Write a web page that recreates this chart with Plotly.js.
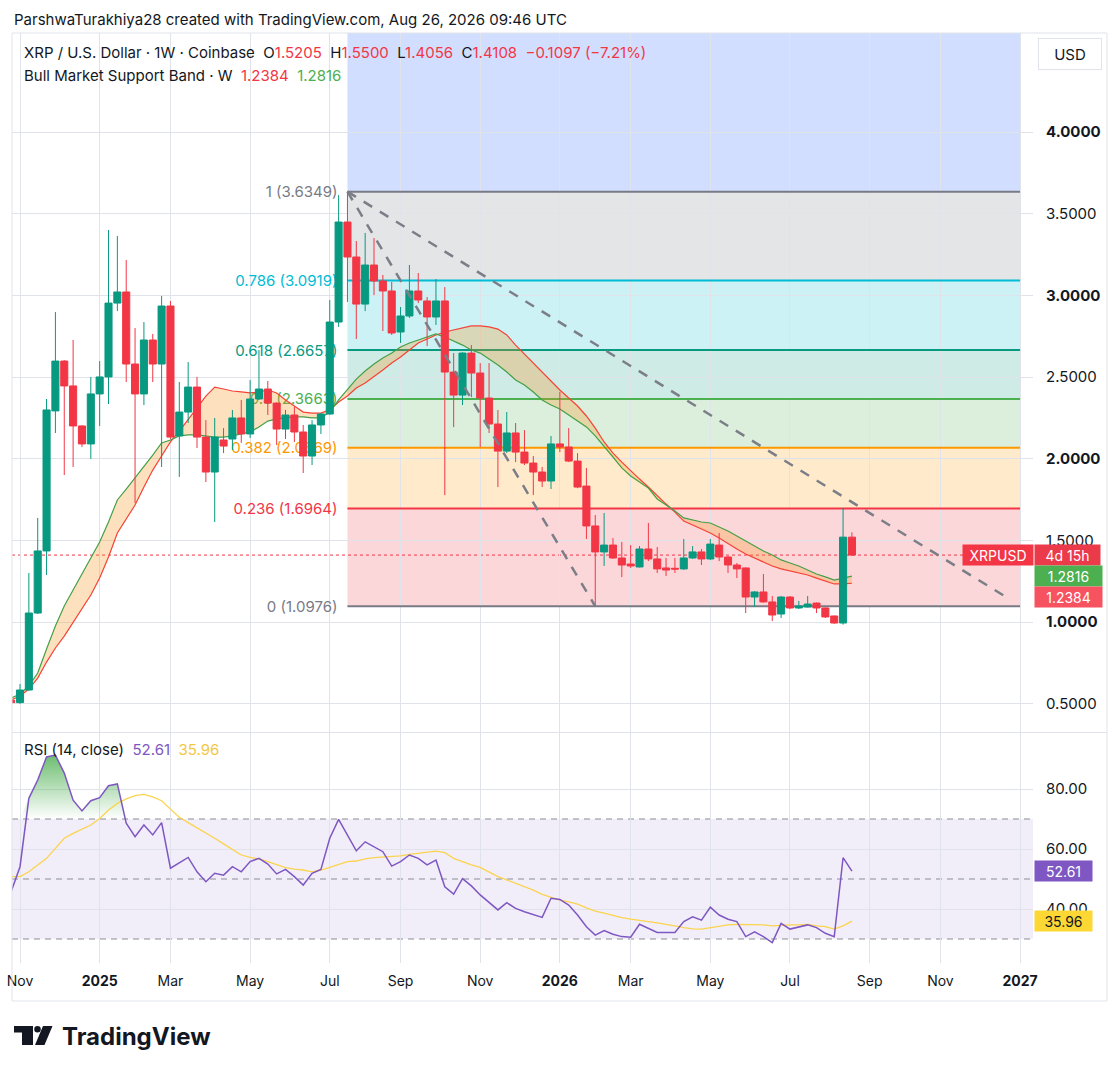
<!DOCTYPE html>
<html><head><meta charset="utf-8">
<script src="https://cdn.plot.ly/plotly-3.0.1.min.js"></script>
<style>html,body{margin:0;padding:0;background:#fff;}#chart{width:1120px;height:1072px;}</style>
</head><body><div id="chart"></div>
<script>
// ---------- DATA ----------
const firstWeekStart = '2024-10-28';
const opens  = [0.522,0.508,0.585,1.056,1.436,2.293,2.598,2.446,2.201,2.091,2.397,2.501,2.953,3.021,2.580,2.397,2.727,2.580,2.935,2.140,2.286,2.439,2.133,1.919,2.115,2.121,2.250,2.152,2.366,2.427,2.341,2.182,2.268,2.164,2.017,2.207,2.274,2.837,3.449,3.235,2.947,3.186,3.088,3.027,2.776,2.874,3.027,2.966,2.868,2.966,2.531,2.390,2.647,2.525,2.372,2.213,2.047,2.158,2.041,1.974,1.919,1.864,2.091,2.072,1.986,1.833,1.589,1.430,1.472,1.393,1.356,1.338,1.448,1.387,1.332,1.330,1.326,1.393,1.430,1.387,1.472,1.399,1.350,1.332,1.154,1.185,1.124,1.050,1.154,1.087,1.093,1.117,1.087,1.038,0.995,1.5205];
const highs  = [0.530,0.622,1.301,1.638,2.366,2.898,2.605,2.727,2.205,2.501,2.598,3.400,3.364,3.217,2.800,2.837,2.764,2.996,2.966,2.470,2.592,2.501,2.237,2.250,2.188,2.299,2.360,2.482,2.666,2.476,2.345,2.299,2.317,2.207,2.237,2.280,2.972,3.614,3.6349,3.333,3.382,3.351,3.125,3.082,2.929,3.186,3.137,2.990,3.100,3.051,2.647,2.652,2.696,2.586,2.586,2.299,2.286,2.219,2.176,2.017,1.950,2.139,2.410,2.188,2.035,1.944,1.656,1.668,1.515,1.491,1.472,1.466,1.607,1.460,1.393,1.393,1.509,1.466,1.448,1.509,1.546,1.405,1.362,1.335,1.190,1.295,1.160,1.160,1.160,1.130,1.160,1.120,1.090,1.040,1.699,1.5500];
const lows   = [0.498,0.500,0.580,1.050,1.289,2.158,1.901,1.950,2.072,1.999,2.201,2.335,2.904,2.470,1.729,2.329,2.470,1.950,2.120,1.889,2.219,2.066,1.858,1.613,2.035,2.054,2.097,2.127,2.360,2.268,2.084,2.121,2.103,1.913,1.962,2.152,2.270,2.807,2.960,2.733,2.904,3.002,2.782,2.758,2.709,2.862,2.953,2.690,2.819,1.778,2.194,2.329,2.378,2.072,2.158,1.827,2.035,1.980,1.962,1.778,1.827,1.815,2.041,1.980,1.820,1.509,1.0976,1.344,1.387,1.276,1.332,1.335,1.374,1.301,1.283,1.301,1.320,1.387,1.350,1.380,1.374,1.301,1.270,1.056,1.093,1.120,1.007,1.026,1.080,1.081,1.090,1.056,1.026,0.990,0.985,1.4056];
const closes = [0.508,0.585,1.056,1.436,2.299,2.598,2.446,2.201,2.091,2.397,2.501,2.953,3.021,2.580,2.397,2.727,2.580,2.935,2.133,2.286,2.439,2.133,1.919,2.133,2.078,2.250,2.152,2.366,2.427,2.341,2.182,2.268,2.164,2.017,2.207,2.274,2.837,3.449,3.235,2.947,3.186,3.088,3.027,2.770,2.874,3.027,2.972,2.868,2.966,2.531,2.390,2.647,2.525,2.372,2.213,2.047,2.158,2.041,1.974,1.919,1.864,2.091,2.072,1.986,1.827,1.589,1.430,1.472,1.393,1.350,1.344,1.448,1.387,1.326,1.319,1.325,1.393,1.430,1.387,1.478,1.399,1.350,1.326,1.154,1.185,1.124,1.044,1.154,1.087,1.099,1.111,1.087,1.032,0.995,1.5205,1.4108];
// Bull Market Support Band (20W SMA red, 21W EMA green)
const sma20 = [0.524,0.548,0.591,0.658,0.756,0.842,0.915,1.001,1.081,1.166,1.270,1.399,1.546,1.632,1.717,1.827,1.931,2.017,2.103,2.170,2.244,2.311,2.384,2.439,2.427,2.415,2.409,2.403,2.409,2.421,2.403,2.360,2.323,2.286,2.280,2.280,2.299,2.348,2.384,2.433,2.464,2.501,2.543,2.586,2.623,2.666,2.709,2.733,2.758,2.776,2.788,2.800,2.813,2.813,2.807,2.794,2.758,2.696,2.641,2.586,2.525,2.470,2.421,2.372,2.323,2.262,2.188,2.103,2.035,1.980,1.925,1.876,1.827,1.772,1.723,1.674,1.619,1.595,1.570,1.546,1.515,1.479,1.448,1.417,1.393,1.368,1.344,1.326,1.313,1.301,1.289,1.270,1.252,1.234,1.234,1.2384];
const ema21 = [0.536,0.561,0.610,0.689,0.836,0.977,1.099,1.197,1.289,1.393,1.491,1.613,1.748,1.815,1.882,1.956,2.023,2.097,2.115,2.140,2.146,2.146,2.140,2.133,2.133,2.140,2.152,2.164,2.195,2.231,2.244,2.250,2.256,2.256,2.250,2.250,2.286,2.360,2.427,2.488,2.537,2.580,2.617,2.647,2.684,2.709,2.727,2.745,2.764,2.745,2.721,2.696,2.666,2.647,2.611,2.574,2.531,2.482,2.452,2.409,2.360,2.329,2.305,2.268,2.231,2.195,2.140,2.072,2.011,1.944,1.895,1.858,1.821,1.754,1.717,1.681,1.638,1.625,1.613,1.607,1.583,1.558,1.528,1.497,1.466,1.436,1.411,1.381,1.362,1.344,1.319,1.295,1.277,1.258,1.270,1.2816];
// RSI (14, close) and its moving average
const rsi14 = [45.8,54.1,76.9,83,90.7,91.3,85.3,76.3,72.7,76.1,77.1,81.1,81.7,68.6,64.1,68,64.7,68.8,53.6,55.4,57.2,52.4,49.1,51.9,51.3,54.1,52.4,55.8,56.9,55,51.7,53.2,50.8,48,51.9,53.2,63.6,69.9,64.7,59.4,62.4,60.8,59.1,54.3,55.8,58,56.9,54.7,56.3,47.4,45,50.1,47.7,44.7,42.1,39.7,42.1,40.2,39.1,38.2,37.2,43.6,43.2,41.3,38,34.1,31.3,32.8,31.6,30.8,30.6,34.9,33.6,32.2,32.2,32.2,35.8,37.4,36.3,40.6,38,36.6,35.8,30.8,32.4,30.8,28.8,35.2,33.3,33.9,34.7,33.8,31.9,30.8,57.1,52.61];
const rsiMa = [50.8,50.8,52.4,54.7,56.9,60.2,63.6,65.2,66.7,68,70.2,73,75.2,76.7,77.8,78.2,77.4,76.1,73.3,70.6,68.8,67.1,65.2,63.6,61.7,59.7,58,57.2,56.7,55.8,54.7,53.8,53.3,53,52.4,53,53.9,54.9,55.8,56,56.7,57.1,57.3,57.4,57.7,58.2,58.6,59.1,59.3,58.8,56.9,55.8,54.7,53.9,52.4,50.8,49.7,48.6,47.4,46.3,44.9,43.9,43,42.4,41.6,40.4,39.3,38.6,37.8,37.1,36.6,36.1,35.8,35.4,35,34.4,33.8,33.4,33.3,33.8,34.3,34.7,34.9,34.9,34.9,34.7,34.4,34.6,34.7,34.7,34.9,34.4,34.1,33.3,34.4,35.96];
// Fibonacci retracement
const fibLabels = ['0 (1.0976)','0.236 (1.6964)','0.382 (2.0669)','0.5 (2.3663)','0.618 (2.6657)','0.786 (3.0919)','1 (3.6349)'];
const fibPrices = [1.0976,1.6964,2.0669,2.3663,2.6657,3.0919,3.6349];
const fibExtPrice = 5.2031; // 1.618 level
const fibColors = ['#787b86','#f23645','#ff9800','#4caf50','#089981','#00bcd4','#787b86'];
const fibZoneColors = ['rgba(242,54,69,0.2)','rgba(255,152,0,0.2)','rgba(76,175,80,0.2)','rgba(8,153,129,0.2)','rgba(0,188,212,0.2)','rgba(120,123,134,0.2)','rgba(41,98,255,0.21)'];
const fibStart = '2025-07-21', fibEnd = '2027-01-04';
// dashed trend lines
const trendSteepX = ['2025-07-21','2026-02-02'], trendSteepY = [3.6349, 1.0976];
const trendLongX  = ['2025-07-21','2026-12-24'], trendLongY  = [3.6349, 1.154];
// axes
const timeTicks = ['2024-11-04','2025-01-06','2025-03-03','2025-05-05','2025-07-07','2025-09-01','2025-11-03','2026-01-05','2026-03-02','2026-05-04','2026-07-06','2026-09-07','2026-11-02','2027-01-04'];
const timeLabels = ['Nov','<b>2025</b>','Mar','May','Jul','Sep','Nov','<b>2026</b>','Mar','May','Jul','Sep','Nov','<b>2027</b>'];
const priceTicks = [0.5,1,1.5,2,2.5,3,3.5,4];
const priceTickLabels = ['0.5000','<b>1.0000</b>','1.5000','<b>2.0000</b>','2.5000','<b>3.0000</b>','3.5000','<b>4.0000</b>'];
const rsiTicks = [40,60,80];
const rsiTickLabels = ['40.00','60.00','80.00'];

// ---------- BUILD ----------
const FONT = 'Inter, "Noto Sans", "DejaVu Sans", sans-serif';
const GRID = '#e1e3ea';
const RED = '#f23645', GREEN = '#089981';
const dates = opens.map((_, i) => new Date(Date.parse(firstWeekStart + 'T00:00:00Z') + i * 7 * 864e5).toISOString().slice(0, 10));
const last = opens.length - 1;

const L = 12, R = 1033, T = 33, B = 963;
const px = x => (x - L) / (R - L);
const py = y => (B - y) / (B - T);

const traces = [
  {type:'scatter', mode:'lines', x:dates, y:sma20, xaxis:'x', yaxis:'y', line:{color:'#f44336', width:1.2}, hoverinfo:'skip'},
  {type:'scatter', mode:'lines', x:dates, y:ema21, xaxis:'x', yaxis:'y', line:{color:'#43a047', width:1.2}, fill:'tonexty', fillcolor:'rgba(247,147,26,0.28)', hoverinfo:'skip'},
  {type:'scatter', mode:'lines', x:dates, y:dates.map(() => 70), xaxis:'x', yaxis:'y2', line:{width:0}, hoverinfo:'skip'},
  {type:'scatter', mode:'lines', x:dates, y:rsi14.map(v => Math.max(v, 70)), xaxis:'x', yaxis:'y2', line:{width:0}, fill:'tonexty',
   fillgradient:{type:'vertical', colorscale:[[0,'rgba(76,175,80,0)'],[1,'rgba(76,175,80,0.85)']], start:70, stop:92}, hoverinfo:'skip'},
  {type:'scatter', mode:'lines', x:dates, y:rsiMa, xaxis:'x', yaxis:'y2', line:{color:'#fbd34d', width:1.3}, hoverinfo:'skip'},
  {type:'scatter', mode:'lines', x:dates, y:rsi14, xaxis:'x', yaxis:'y2', line:{color:'#7e57c2', width:1.5}, hoverinfo:'skip'},
  {type:'candlestick', x:dates, open:opens, high:highs, low:lows, close:closes, xaxis:'x', yaxis:'y3', whiskerwidth:0,
   increasing:{line:{color:GREEN, width:1}, fillcolor:GREEN}, decreasing:{line:{color:RED, width:1}, fillcolor:RED}, hoverinfo:'skip'}
];

const shapes = [];
// fib zones
const zoneBounds = fibPrices.concat([fibExtPrice]);
for (let i = 0; i < zoneBounds.length - 1; i++) {
  shapes.push({type:'rect', xref:'x', yref:'y', x0:fibStart, x1:fibEnd, y0:zoneBounds[i], y1:zoneBounds[i+1], fillcolor:fibZoneColors[i], line:{width:0}, layer:'below'});
}
// rsi band
shapes.push({type:'rect', xref:'paper', yref:'y2', x0:0, x1:1, y0:30, y1:70, fillcolor:'rgba(126,87,194,0.1)', line:{width:0}, layer:'below'});
// fib lines with labels
fibPrices.forEach((p, i) => {
  shapes.push({type:'line', xref:'x', yref:'y', x0:fibStart, x1:fibEnd, y0:p, y1:p, line:{color:fibColors[i], width:2}, layer:'between',
    label:{text:fibLabels[i], textposition:'start', xanchor:'right', yanchor:'middle', textangle:0, padding:10, font:{family:FONT, size:15, color:fibColors[i]}}});
});
// rsi dashed levels
[70,50,30].forEach(v => shapes.push({type:'line', xref:'paper', yref:'y2', x0:0, x1:1, y0:v, y1:v, line:{color:'#8a8d96', width:1, dash:'6px,5px'}, layer:'between'}));
// last price dotted line
shapes.push({type:'line', xref:'paper', yref:'y', x0:0, x1:1, y0:closes[last], y1:closes[last], line:{color:RED, width:1, dash:'dot'}, layer:'between'});
// trend lines
shapes.push({type:'line', xref:'x', yref:'y', x0:trendSteepX[0], x1:trendSteepX[1], y0:trendSteepY[0], y1:trendSteepY[1], line:{color:'#7b7e87', width:2.5, dash:'10px,9px'}, layer:'above'});
shapes.push({type:'line', xref:'x', yref:'y', x0:trendLongX[0], x1:trendLongX[1], y0:trendLongY[0], y1:trendLongY[1], line:{color:'#7b7e87', width:2.5, dash:'10px,9px'}, layer:'above'});
// frame lines
const BORDER = '#e0e3eb';
const pline = (x0, y0, x1, y1) => shapes.push({type:'line', xref:'paper', yref:'paper', x0:px(x0), y0:py(y0), x1:px(x1), y1:py(y1), line:{color:BORDER, width:1}, layer:'above'});
pline(12, 33, 1107, 33);
pline(12, 33, 12, 1001);
pline(12, 1001, 1107, 1001);
pline(1107, 33, 1107, 1001);
pline(12, 732.5, 1107, 732.5);
// TradingView logo glyph
const pathOf = pts => 'M' + pts.map(p => px(p[0]).toFixed(5) + ',' + py(p[1]).toFixed(5)).join(' L') + ' Z';
shapes.push({type:'path', xref:'paper', yref:'paper', path:pathOf([[14,1026],[33,1026],[33,1045],[22,1045],[22,1032.5],[14,1032.5]]), fillcolor:'#131722', line:{width:0}});
shapes.push({type:'circle', xref:'paper', yref:'paper', x0:px(34.2), x1:px(40.8), y0:py(1032.6), y1:py(1026), fillcolor:'#131722', line:{width:0}});
shapes.push({type:'path', xref:'paper', yref:'paper', path:pathOf([[43,1026],[52.5,1026],[44.5,1045],[35,1045]]), fillcolor:'#131722', line:{width:0}});

// annotations
const fmt4 = v => v.toFixed(4);
const chg = closes[last] - closes[last-1];
const chgPct = chg / closes[last-1] * 100;
const signed = (v, d) => (v < 0 ? '\u2212' : '+') + Math.abs(v).toFixed(d);
const sp = '\u00a0\u00a0';
const col = (c, t) => '<span style="color:' + c + '">' + t + '</span>';
const annotations = [
  {xref:'paper', yref:'paper', x:px(12), y:py(19.5), xanchor:'left', yanchor:'middle', showarrow:false,
   text:'ParshwaTurakhiya28 created with TradingView.com, Aug 26, 2026 09:46 UTC', font:{family:FONT, size:15, color:'#131722'}},
  {xref:'paper', yref:'paper', x:px(22), y:py(53), xanchor:'left', yanchor:'middle', showarrow:false, font:{family:FONT, size:15, color:'#131722'},
   text:'XRP / U.S. Dollar \u00b7 1W \u00b7 Coinbase' + sp + 'O' + col(RED, fmt4(opens[last])) + sp + 'H' + col(RED, fmt4(highs[last])) + sp + 'L' + col(RED, fmt4(lows[last])) + sp + 'C' + col(RED, fmt4(closes[last])) + sp + col(RED, signed(chg, 4) + ' (' + signed(chgPct, 2) + '%)')},
  {xref:'paper', yref:'paper', x:px(22), y:py(75), xanchor:'left', yanchor:'middle', showarrow:false, font:{family:FONT, size:15, color:'#131722'},
   text:'Bull Market Support Band \u00b7 W' + sp + col(RED, fmt4(sma20[last])) + sp + col('#4caf50', fmt4(ema21[last]))},
  {xref:'paper', yref:'paper', x:px(22), y:py(749), xanchor:'left', yanchor:'middle', showarrow:false, font:{family:FONT, size:15, color:'#131722'},
   text:'RSI (14, close)' + sp + col('#7e57c2', rsi14[last].toFixed(2)) + sp + col('#f2c744', rsiMa[last].toFixed(2))},
  {xref:'paper', yref:'paper', x:px(1070), y:py(54), xanchor:'center', yanchor:'middle', showarrow:false, text:'USD',
   font:{family:FONT, size:15, color:'#131722'}, bordercolor:'#e0e3eb', borderwidth:1, borderpad:0, width:62, height:30, bgcolor:'#fff'},
  {xref:'paper', yref:'y', x:px(998), y:closes[last], xanchor:'center', yanchor:'middle', showarrow:false, text:'XRPUSD',
   font:{family:FONT, size:14, color:'#fff'}, bgcolor:RED, width:70, height:20, borderpad:0},
  {xref:'paper', yref:'y', x:px(1067.5), y:closes[last], xanchor:'center', yanchor:'middle', showarrow:false, text:'4d 15h',
   font:{family:FONT, size:14, color:'#fff'}, bgcolor:'#eb3a4a', width:65, height:20, borderpad:0},
  {xref:'paper', yref:'y', x:px(1068.5), y:ema21[last], xanchor:'center', yanchor:'middle', showarrow:false, text:fmt4(ema21[last]),
   font:{family:FONT, size:14, color:'#fff'}, bgcolor:'#4caf50', width:67, height:20, borderpad:0},
  {xref:'paper', yref:'y', x:px(1068.5), y:sma20[last], yshift:-14, xanchor:'center', yanchor:'middle', showarrow:false, text:fmt4(sma20[last]),
   font:{family:FONT, size:14, color:'#fff'}, bgcolor:'#f7525f', width:67, height:20, borderpad:0},
  {xref:'paper', yref:'y2', x:px(1063.5), y:rsi14[last], xanchor:'center', yanchor:'middle', showarrow:false, text:rsi14[last].toFixed(2),
   font:{family:FONT, size:14, color:'#fff'}, bgcolor:'#7e57c2', width:57, height:20, borderpad:0},
  {xref:'paper', yref:'y2', x:px(1063.5), y:rsiMa[last], xanchor:'center', yanchor:'middle', showarrow:false, text:rsiMa[last].toFixed(2),
   font:{family:FONT, size:14, color:'#131722'}, bgcolor:'#fdd835', width:57, height:20, borderpad:0},
  {xref:'paper', yref:'paper', x:px(60), y:py(1036), xanchor:'left', yanchor:'middle', showarrow:false, text:'<b>TradingView</b>',
   font:{family:FONT, size:24, color:'#131722'}}
];

const priceRange = [0.328, 4.606];
const layout = {
  width:1120, height:1072, margin:{l:12, r:87, t:33, b:109, pad:0},
  paper_bgcolor:'#fff', plot_bgcolor:'#fff', showlegend:false, hovermode:false,
  font:{family:FONT, size:14, color:'#131722'},
  boxgap:0.2, boxgroupgap:0,
  xaxis:{type:'date', range:['2024-10-28 16:00','2027-01-14 05:30'], anchor:'y2', tickmode:'array', tickvals:timeTicks, ticktext:timeLabels,
    showgrid:true, gridcolor:GRID, gridwidth:1, ticks:'', showline:false, zeroline:false, rangeslider:{visible:false}, fixedrange:true,
    tickfont:{family:FONT, size:14, color:'#131722'}, ticklabelstandoff:8},
  yaxis:{domain:[0.2484,1], side:'right', range:priceRange, tickmode:'array', tickvals:priceTicks, ticktext:priceTickLabels,
    showgrid:true, gridcolor:GRID, zeroline:false, ticks:'', showline:false, fixedrange:true, ticklabelstandoff:12,
    tickfont:{family:FONT, size:15, color:'#131722'}},
  yaxis2:{domain:[0,0.2473], side:'right', range:[22,98.67], tickmode:'array', tickvals:rsiTicks, ticktext:rsiTickLabels,
    showgrid:true, gridcolor:GRID, zeroline:false, ticks:'', showline:false, fixedrange:true, ticklabelstandoff:12,
    tickfont:{family:FONT, size:15, color:'#131722'}},
  yaxis3:{overlaying:'y', side:'right', range:priceRange, visible:false, showgrid:false, zeroline:false, fixedrange:true},
  shapes:shapes, annotations:annotations
};
Plotly.newPlot('chart', traces, layout, {staticPlot:true, displayModeBar:false});
</script>
</body></html>
